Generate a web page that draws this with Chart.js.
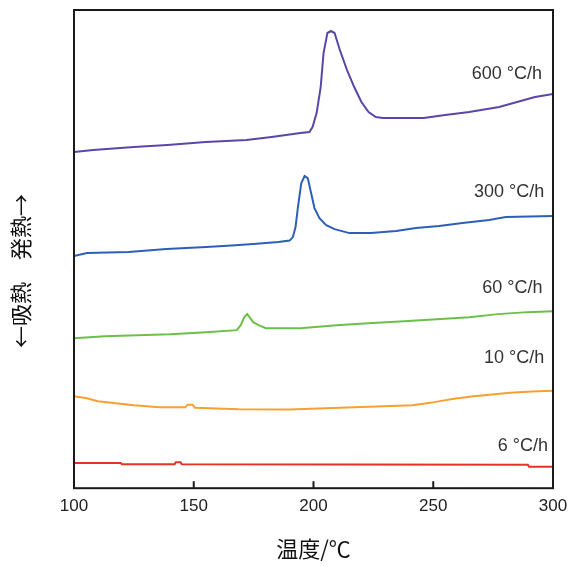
<!DOCTYPE html>
<html>
<head>
<meta charset="utf-8">
<script src="https://cdn.jsdelivr.net/npm/chart.js@4/dist/chart.umd.min.js"></script>
<style>
  html, body { margin: 0; padding: 0; background: #fff; }
  #wrap { width: 568px; height: 567px; }
</style>
</head>
<body>
<div id="wrap"><canvas id="dsc" width="568" height="567"></canvas></div>
<script>
// heating rates and their labels
const rateLabels = ["600 °C/h", "300 °C/h", "60 °C/h", "10 °C/h", "6 °C/h"];
const xTicks = [100, 150, 200, 250, 300];

// DSC curves: [temperature °C, heat flow (arb., offset)]
const curve600 = [[100,336],[108,338],[125,341],[139,343],[155,346],[172,348],[182.5,351],[194.5,355],[198.3,356],[199.6,361],[201.3,375],[203,401],[204.2,435],[205.8,455],[207.3,457],[208.8,455],[211,438],[214,418],[217,401],[220,386],[223,376],[226,371],[229,370],[246,370],[255,373],[265,376],[277.5,381],[288,388],[292.5,391],[300,394]];
const curve300 = [[100,232],[105.4,235],[122.8,236],[138.6,239],[155.2,241],[165.8,242.5],[174.8,244],[185.4,246],[190,247.5],[191.4,251],[192.5,261],[193.5,281],[194.9,305],[196.3,312],[197.6,310],[199,295],[200.4,280],[202.5,270],[205.3,263],[208.8,259],[215,255],[224,255],[234.5,257],[242.8,260],[252.5,262],[262.2,265],[273.3,268],[280.3,271],[300,272]];
const curve60 = [[100,150],[112.9,152],[140.1,154],[155.2,156],[168,158],[169.6,163],[171.1,171],[172.3,174],[173.3,171],[174.8,166],[177.1,163],[180.1,160],[194.5,160],[209.6,163],[222.8,165],[237.8,167],[251.4,169],[265,171],[277,174],[289.2,176],[300,177]];
const curve10 = [[100,92],[105.4,90],[109.9,87],[117.5,85],[125,83],[135.6,81],[146.5,81],[147.5,83.5],[149.5,83.5],[150.5,80.5],[168.8,79],[190,78.7],[205,80],[223.2,81.3],[241.3,83],[248.8,85.3],[253.3,87.3],[259.4,89.7],[266.9,92],[274.5,93.7],[282.1,95.3],[291.1,96.7],[300,97.3]];
const curve6 = [[100,25.3],[119.5,25.3],[120,24],[142,24],[142.5,26],[144.5,26],[145,24],[289.5,23.5],[290,21.5],[300,21.5]];

const curves = [curve600, curve300, curve60, curve10, curve6];
const colors = ["#5a46a8", "#2e5fb6", "#6cc04a", "#f7a030", "#e8302a"];

// where each rate label sits (right edge, in data units)
const labelAt = [[295.4, 414], [296.3, 296.5], [295.6, 200.5], [296.3, 130.5], [297.9, 42]];

const decor = {
  id: "decor",
  afterDraw(chart) {
    const { ctx, chartArea: a, scales: { x, y } } = chart;
    ctx.save();
    ctx.strokeStyle = "#1a1a1a";
    ctx.lineWidth = 2;
    ctx.strokeRect(a.left, a.top, a.right - a.left, a.bottom - a.top);
    // inward tick marks
    xTicks.forEach(v => {
      const px = x.getPixelForValue(v);
      ctx.beginPath();
      ctx.moveTo(px, a.bottom);
      ctx.lineTo(px, a.bottom - 7);
      ctx.stroke();
    });
    // rate labels
    ctx.font = '18px "Liberation Sans", Arial, sans-serif';
    ctx.fillStyle = "#333";
    ctx.textAlign = "right";
    ctx.textBaseline = "middle";
    rateLabels.forEach((t, i) => {
      ctx.fillText(t, x.getPixelForValue(labelAt[i][0]), y.getPixelForValue(labelAt[i][1]));
    });
    // y title
    ctx.translate(21, 271);
    ctx.rotate(-Math.PI / 2);
    ctx.textAlign = "center";
    ctx.font = '22px "Noto Sans CJK JP", sans-serif';
    ctx.fillStyle = "#111";
    ctx.fillText("←吸熱　発熱→", 0, 0);
    ctx.restore();
  }
};

new Chart(document.getElementById("dsc"), {
  type: "line",
  data: {
    datasets: curves.map((c, i) => ({
      label: rateLabels[i],
      data: c.map(p => ({ x: p[0], y: p[1] })),
      borderColor: colors[i],
      borderWidth: 2,
      pointRadius: 0,
      tension: 0,
      fill: false
    }))
  },
  options: {
    responsive: false,
    animation: false,
    layout: { padding: { left: 74, right: 15, top: 10, bottom: 0 } },
    plugins: { legend: { display: false }, tooltip: { enabled: false } },
    scales: {
      x: {
        type: "linear",
        min: 100,
        max: 300,
        afterBuildTicks: s => { s.ticks = xTicks.map(v => ({ value: v })); },
        afterFit: s => { s.paddingLeft = 0; s.paddingRight = 0; },
        grid: { display: false, drawTicks: false },
        border: { display: false },
        ticks: {
          padding: 8,
          color: "#222",
          font: { family: '"Liberation Sans", Arial, sans-serif', size: 17 }
        },
        title: {
          display: true,
          text: "温度/℃",
          color: "#111",
          padding: { top: 11, bottom: 5 },
          font: { family: '"Noto Sans CJK JP", sans-serif', size: 22 }
        }
      },
      y: {
        display: false,
        min: 0,
        max: 478
      }
    }
  },
  plugins: [decor]
});
</script>
</body>
</html>
